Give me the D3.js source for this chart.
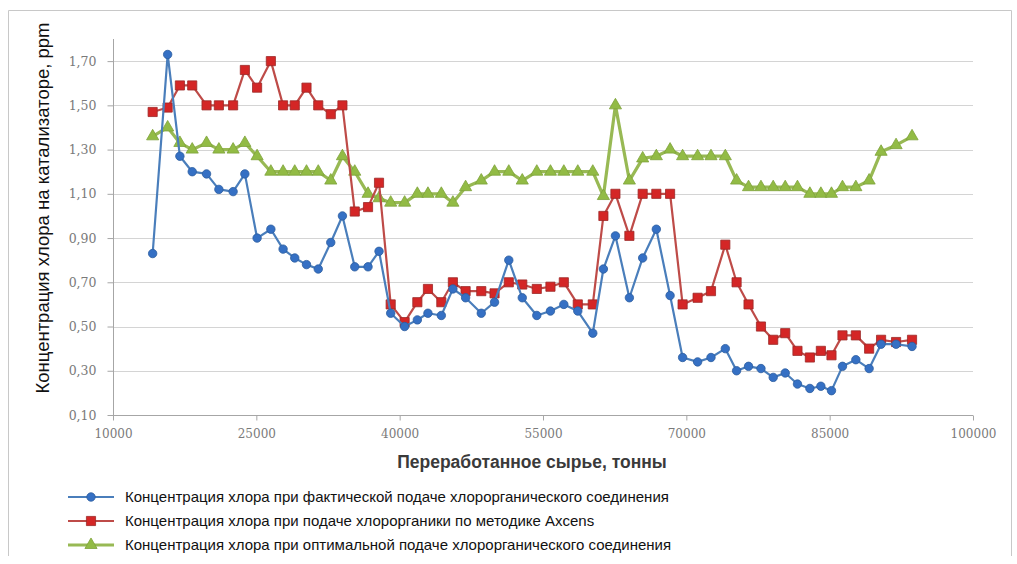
<!DOCTYPE html>
<html>
<head>
<meta charset="utf-8">
<script src="https://cdn.jsdelivr.net/npm/d3@7"></script>
<style>
  html, body { margin: 0; padding: 0; background: #fff; }
  svg { display: block; }
</style>
</head>
<body>
<svg id="chart" width="1017" height="564"></svg>
<script>
// Processed feed, tonnes
const tonnes = [
  14150, 15720, 17000, 18290, 19790, 21080, 22570, 23800, 25080, 26520,
  27800, 29020, 30250, 31480, 32790, 34010, 35300, 36690, 37840, 39060,
  40520, 41850, 42960, 44360, 45570, 46900, 48540, 49930, 51420, 52830,
  54350, 55780, 57180, 58640, 60210, 61320, 62580, 64040, 65430, 66860,
  68300, 69610, 71180, 72580, 74080, 75260, 76510, 77810, 79090, 80350,
  81630, 82930, 84080, 85190, 86340, 87740, 89130, 90380, 91950, 93620
];

// Chlorine on catalyst, ppm — actual organochloride feed
const actualFeed = [
  0.83, 1.73, 1.27, 1.20, 1.19, 1.12, 1.11, 1.19, 0.90, 0.94,
  0.85, 0.81, 0.78, 0.76, 0.88, 1.00, 0.77, 0.77, 0.84, 0.56,
  0.50, 0.53, 0.56, 0.55, 0.67, 0.63, 0.56, 0.61, 0.80, 0.63,
  0.55, 0.57, 0.60, 0.57, 0.47, 0.76, 0.91, 0.63, 0.81, 0.94,
  0.64, 0.36, 0.34, 0.36, 0.40, 0.30, 0.32, 0.31, 0.27, 0.29,
  0.24, 0.22, 0.23, 0.21, 0.32, 0.35, 0.31, 0.42, 0.42, 0.41
];

// Chlorine on catalyst, ppm — Axens feed method
const axensFeed = [
  1.47, 1.49, 1.59, 1.59, 1.50, 1.50, 1.50, 1.66, 1.58, 1.70,
  1.50, 1.50, 1.58, 1.50, 1.46, 1.50, 1.02, 1.04, 1.15, 0.60,
  0.52, 0.61, 0.67, 0.61, 0.70, 0.66, 0.66, 0.65, 0.70, 0.69,
  0.67, 0.68, 0.70, 0.60, 0.60, 1.00, 1.10, 0.91, 1.10, 1.10,
  1.10, 0.60, 0.63, 0.66, 0.87, 0.70, 0.60, 0.50, 0.44, 0.47,
  0.39, 0.36, 0.39, 0.37, 0.46, 0.46, 0.40, 0.44, 0.43, 0.44
];

// Chlorine on catalyst, ppm — optimal organochloride feed
const optimalFeed = [
  1.36, 1.40, 1.33, 1.30, 1.33, 1.30, 1.30, 1.33, 1.27, 1.20,
  1.20, 1.20, 1.20, 1.20, 1.16, 1.27, 1.20, 1.10, 1.08, 1.06,
  1.06, 1.10, 1.10, 1.10, 1.06, 1.13, 1.16, 1.20, 1.20, 1.16,
  1.20, 1.20, 1.20, 1.20, 1.20, 1.09, 1.50, 1.16, 1.26, 1.27,
  1.30, 1.27, 1.27, 1.27, 1.27, 1.16, 1.13, 1.13, 1.13, 1.13,
  1.13, 1.10, 1.10, 1.10, 1.13, 1.13, 1.16, 1.29, 1.32, 1.36
];

const xTickValues = [10000, 25000, 40000, 55000, 70000, 85000, 100000];
const yTickValues = [0.10, 0.30, 0.50, 0.70, 0.90, 1.10, 1.30, 1.50, 1.70];

const seriesNames = [
  "Концентрация хлора при фактической подаче хлорорганического соединения",
  "Концентрация хлора при подаче хлорорганики по методике Axcens",
  "Концентрация хлора при оптимальной подаче хлорорганического соединения"
];

const svg = d3.select("#chart");

// outer frame
svg.append("path")
  .attr("d", "M8.5,556 V10.5 H1011.5 V556")
  .attr("fill", "none")
  .attr("stroke", "#c8c8c8")
  .attr("stroke-width", 1);

const plot = { left: 113, right: 973, top: 39, bottom: 415 };

const x = d3.scaleLinear().domain([10000, 100000]).range([plot.left, plot.right]);
const y = d3.scaleLinear().domain([0.10, 1.80]).range([plot.bottom, plot.top]);

// horizontal gridlines
svg.append("g")
  .selectAll("line")
  .data(yTickValues.filter(v => v > 0.1))
  .join("line")
  .attr("x1", plot.left).attr("x2", plot.right)
  .attr("y1", d => Math.round(y(d)) + 0.5).attr("y2", d => Math.round(y(d)) + 0.5)
  .attr("stroke", "#d4d4d4").attr("stroke-width", 1);

const commaFmt = v => d3.format(".2f")(v).replace(".", ",");
const tickFont = "'DejaVu Serif', serif";

// y axis
const yAxis = svg.append("g")
  .attr("transform", `translate(${plot.left + 0.5},0)`)
  .call(d3.axisLeft(y).tickValues(yTickValues).tickFormat(commaFmt).tickSize(6).tickPadding(11));
yAxis.select(".domain").attr("stroke", "#a6a6a6").attr("d", `M0,${plot.top}V${plot.bottom}`);
yAxis.selectAll(".tick line").attr("stroke", "#a6a6a6");
yAxis.selectAll(".tick text")
  .attr("fill", "#7a7a7a")
  .style("font-family", tickFont)
  .style("font-size", "12.5px");

// x axis
const xAxis = svg.append("g")
  .attr("transform", `translate(0,${plot.bottom + 0.5})`)
  .call(d3.axisBottom(x).tickValues(xTickValues).tickFormat(d3.format("d")).tickSize(5).tickPadding(9));
xAxis.select(".domain").attr("stroke", "#a6a6a6").attr("d", `M${plot.left},0H${plot.right}`);
xAxis.selectAll(".tick line").attr("stroke", "#a6a6a6");
xAxis.selectAll(".tick text")
  .attr("fill", "#7a7a7a")
  .style("font-family", tickFont)
  .style("font-size", "12px");

// axis titles
svg.append("text")
  .attr("transform", `translate(49,208) rotate(-90)`)
  .attr("text-anchor", "middle")
  .style("font-family", "'Liberation Sans', Arial, sans-serif")
  .style("font-size", "18.5px")
  .attr("fill", "#111")
  .text("Концентрация хлора на катализаторе, ppm");

svg.append("text")
  .attr("x", 532).attr("y", 468)
  .attr("text-anchor", "middle")
  .style("font-family", "'Liberation Sans', Arial, sans-serif")
  .style("font-size", "17.5px")
  .style("font-weight", "bold")
  .attr("fill", "#3a3a3a")
  .text("Переработанное сырье, тонны");

const styles = [
  { values: actualFeed, line: "#4a7ebb", fill: "#3570c4", stroke: "#2c5d9e", width: 2.2, shape: "circle" },
  { values: axensFeed, line: "#be4b48", fill: "#d42626", stroke: "#9c2a28", width: 2.2, shape: "square" },
  { values: optimalFeed, line: "#98b954", fill: "#92bb45", stroke: "#7ea23a", width: 3.2, shape: "triangle" }
];

const symbolFor = shape => {
  if (shape === "circle") return d3.symbol().type(d3.symbolCircle).size(56)();
  if (shape === "square") return d3.symbol().type(d3.symbolSquare).size(84)();
  return d3.symbol().type(d3.symbolTriangle).size(64)();
};

const lineGen = d3.line().x((d, i) => x(tonnes[i])).y(d => y(d));

// draw from back to front so the first series sits on top
[2, 1, 0].forEach(k => {
  const s = styles[k];
  const g = svg.append("g");
  g.append("path")
    .datum(s.values)
    .attr("d", lineGen)
    .attr("fill", "none")
    .attr("stroke", s.line)
    .attr("stroke-width", s.width)
    .attr("stroke-linejoin", "round");
  g.selectAll("path.mark")
    .data(s.values)
    .join("path")
    .attr("class", "mark")
    .attr("d", symbolFor(s.shape))
    .attr("transform", (d, i) => `translate(${x(tonnes[i])},${y(d)})`)
    .attr("fill", s.fill)
    .attr("stroke", s.stroke)
    .attr("stroke-width", 0.8);
});

// legend
const legendRows = [497, 521, 545];
const legend = svg.append("g");
styles.forEach((s, k) => {
  const ly = legendRows[k];
  legend.append("line")
    .attr("x1", 68).attr("x2", 114).attr("y1", ly).attr("y2", ly)
    .attr("stroke", s.line).attr("stroke-width", s.width);
  legend.append("path")
    .attr("d", symbolFor(s.shape))
    .attr("transform", `translate(91,${ly})`)
    .attr("fill", s.fill).attr("stroke", s.stroke).attr("stroke-width", 0.8);
  legend.append("text")
    .attr("x", 125).attr("y", ly + 5)
    .style("font-family", "'Liberation Sans', Arial, sans-serif")
    .style("font-size", "15px")
    .attr("fill", "#111")
    .text(seriesNames[k]);
});
</script>
</body>
</html>
